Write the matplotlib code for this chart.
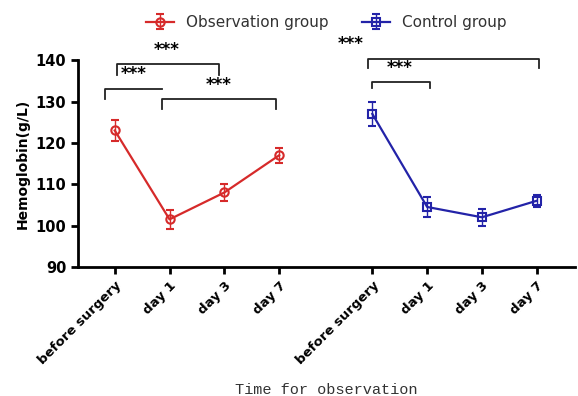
import numpy as np
import matplotlib.pyplot as plt

categories = ['before surgery', 'day 1', 'day 3', 'day 7']
obs_mean = [123.0, 101.5, 108.0, 117.0]
obs_err = [2.5, 2.3, 2.0, 1.8]
ctrl_mean = [127.0, 104.5, 102.0, 106.0]
ctrl_err = [2.8, 2.5, 2.0, 1.5]

RED = '#d62a2a'
BLUE = '#2323a8'


def bracket(ax, x1, x2, y, h1, h2, lw=1.3):
    ax.plot([x1, x1, x2, x2], [y - h1, y, y, y - h2], color='#222222',
            lw=lw, clip_on=False)


def main():
    fig = plt.figure(figsize=(5.78, 3.96), dpi=100)
    ax = fig.add_axes([0.135, 0.326, 0.86, 0.522])

    x_obs = np.arange(4)
    x_ctrl = np.arange(4) + 4.7

    ax.errorbar(x_obs, obs_mean, yerr=obs_err, color=RED, marker='o',
                ms=6, mfc='none', mew=1.5, lw=1.6, capsize=3, elinewidth=1.0,
                label='Observation group')
    ax.errorbar(x_ctrl, ctrl_mean, yerr=ctrl_err, color=BLUE, marker='s',
                ms=6, mfc='none', mew=1.5, lw=1.6, capsize=3, elinewidth=1.0,
                label='Control group')

    ax.set_xlim(-0.67, 8.4)
    ax.set_ylim(90, 140)
    ax.set_yticks([90, 100, 110, 120, 130, 140])
    ax.set_xticks(list(x_obs) + list(x_ctrl))
    ax.set_xticklabels(categories + categories, rotation=45, ha='right',
                       rotation_mode='anchor', fontweight='bold', fontsize=9.5)
    for lab in ax.get_yticklabels():
        lab.set_fontweight('bold')
        lab.set_fontsize(10.5)

    for s in ['top', 'right']:
        ax.spines[s].set_visible(False)
    ax.spines['left'].set_linewidth(2)
    ax.spines['bottom'].set_linewidth(2)
    ax.tick_params(width=2, length=5)

    ax.set_ylabel('Hemoglobin(g/L)', fontsize=10, fontweight='bold')
    ax.set_xlabel('Time for observation', family='Liberation Mono',
                  fontsize=11, labelpad=12, color='#333333')

    # significance brackets
    bracket(ax, 0.05, 1.9, 139.0, 2.6, 2.6)
    ax.text(0.95, 140.2, '***', ha='center', va='bottom', fontsize=12,
            fontweight='bold')
    bracket(ax, -0.18, 0.87, 133.0, 2.4, 0)
    ax.text(0.35, 134.5, '***', ha='center', va='bottom', fontsize=12,
            fontweight='bold')
    bracket(ax, 0.87, 2.95, 130.5, 2.2, 2.2)
    ax.text(1.9, 131.8, '***', ha='center', va='bottom', fontsize=12,
            fontweight='bold')

    bracket(ax, 4.62, 7.75, 140.3, 2.1, 2.1)
    ax.text(4.3, 141.7, '***', ha='center', va='bottom', fontsize=12,
            fontweight='bold')
    bracket(ax, 4.7, 5.75, 134.7, 1.5, 1.5)
    ax.text(5.2, 135.9, '***', ha='center', va='bottom', fontsize=12,
            fontweight='bold')

    ax.legend(loc='lower center', bbox_to_anchor=(0.5, 1.08), ncol=2,
              frameon=False, fontsize=11, handlelength=1.8, columnspacing=2.2,
              labelcolor='#333333')

    fig.savefig('out.png', dpi=100)


if __name__ == '__main__':
    main()
